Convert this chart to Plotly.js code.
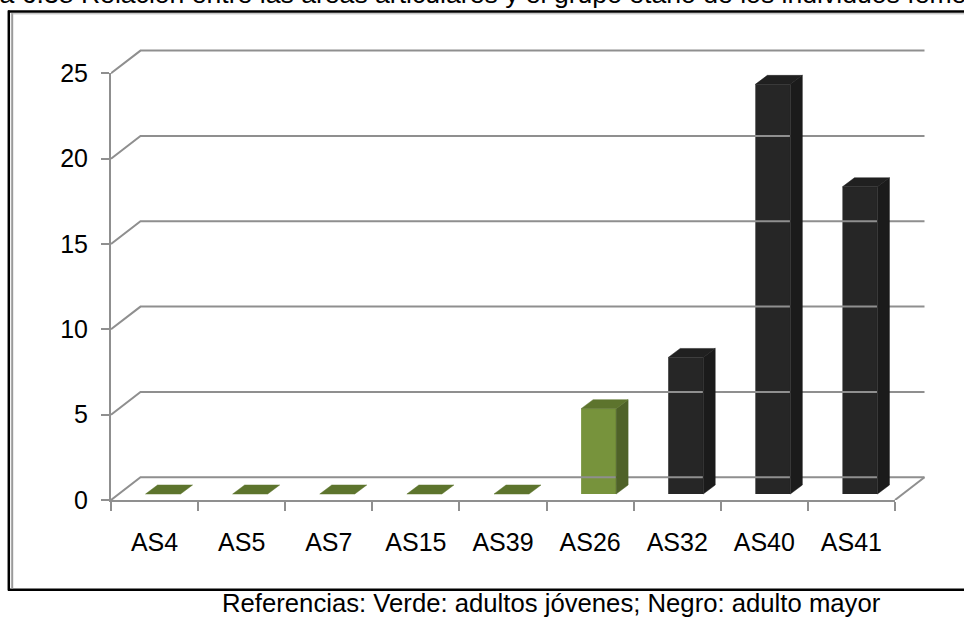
<!DOCTYPE html>
<html><head><meta charset="utf-8">
<script src="https://cdn.plot.ly/plotly-3.0.1.min.js"></script>
<style>html,body{margin:0;padding:0;background:#fff;}#chart{width:964px;height:619px;}</style>
</head><body><div id="chart"></div>
<script>
// ---- data ----
const categories = ['AS4','AS5','AS7','AS15','AS39','AS26','AS32','AS40','AS41'];
const values = [0, 0, 0, 0, 0, 5, 8, 24, 18];
const groups = ['joven','joven','joven','joven','joven','joven','mayor','mayor','mayor'];
const yTicks = [0, 5, 10, 15, 20, 25];
const titleText = 'Figura 6.38 Relación entre las áreas articulares y el grupo etario de los individuos femeninos';
const captionText = 'Referencias: Verde: adultos jóvenes; Negro: adulto mayor';

// ---- layout geometry (pixels) ----
const W = 964, H = 619;
const FONT = 'Liberation Sans, Arial, sans-serif';
const plotL = 111, plotR = 895, y0px = 500, yTopPx = 73.3;
const yMaxVal = 25;
const U = (plotR - plotL) / categories.length;   // px per category
const V = (y0px - yTopPx) / yMaxVal;             // px per unit
const wallDx = 29.5 / U, wallDy = 22.7 / V;       // depth of the 3D box
const barDx = 8.5 / U, barDy = 6 / V;             // bar plane offset
const barW = 35 / U;
const sideDx = 12 / U, sideDy = 9 / V;            // bar depth
const xMin = -0.5, xMax = categories.length - 0.5;
const wxMax = xMax + wallDx + 0.05;
const wyMax = yMaxVal + wallDy + 0.12;
const fx = p => p / W, fy = p => 1 - p / H;

const colors = {
  joven: {front: '#77933C', side: '#4F6228', top: '#5D742D'},
  mayor: {front: '#262626', side: '#1B1B1B', top: '#202020'}
};
const gridColor = '#8F8F8F';

// back wall grid lines + floor
const gx = [], gy = [];
yTicks.forEach(t => {
  gx.push(xMin, xMin + wallDx, xMax + wallDx, null);
  gy.push(t, t + wallDy, t + wallDy, null);
});
gx.push(xMax, xMax + wallDx); gy.push(0, wallDy);

const traces = [];
traces.push({type: 'scatter', mode: 'lines', x: gx, y: gy, line: {color: gridColor, width: 2},
  xaxis: 'x', yaxis: 'y', hoverinfo: 'skip', showlegend: false});

// front faces
traces.push({type: 'bar', x: categories.map((c, i) => i + barDx), y: values, base: barDy, width: barW,
  marker: {color: groups.map(g => colors[g].front), line: {width: 0}},
  xaxis: 'x', yaxis: 'y', hoverinfo: 'skip', showlegend: false});

// side and top faces
Object.keys(colors).forEach(g => {
  const sx = [], sy = [], tx = [], ty = [];
  values.forEach((v, i) => {
    if (groups[i] !== g) return;
    const xl = i + barDx - barW / 2, xr = i + barDx + barW / 2;
    const yb = barDy, yt = barDy + v;
    if (v > 0) {
      sx.push(xr, xr + sideDx, xr + sideDx, xr, xr, null);
      sy.push(yb, yb + sideDy, yt + sideDy, yt, yb, null);
    }
    tx.push(xl, xr, xr + sideDx, xl + sideDx, xl, null);
    ty.push(yt, yt, yt + sideDy, yt + sideDy, yt, null);
  });
  traces.push({type: 'scatter', mode: 'lines', x: sx, y: sy, fill: 'toself', fillcolor: colors[g].side,
    line: {color: colors[g].side, width: 0.5}, xaxis: 'x', yaxis: 'y', hoverinfo: 'skip', showlegend: false});
  traces.push({type: 'scatter', mode: 'lines', x: tx, y: ty, fill: 'toself', fillcolor: colors[g].top,
    line: {color: colors[g].top, width: 0.5}, xaxis: 'x', yaxis: 'y', hoverinfo: 'skip', showlegend: false});
});

// front axes carrier
traces.push({type: 'scatter', mode: 'none', x: categories, y: values, xaxis: 'x2', yaxis: 'y2',
  hoverinfo: 'skip', showlegend: false});

const H_ = (x0, y0, x1, y1, color, w) => ({type: 'line', xref: 'paper', yref: 'paper',
  x0: fx(x0), y0: fy(y0), x1: fx(x1), y1: fy(y1), line: {color: color, width: w}});

const layout = {
  width: W, height: H, autosize: false,
  margin: {l: 0, r: 0, t: 0, b: 0, pad: 0},
  paper_bgcolor: '#ffffff', plot_bgcolor: 'rgba(0,0,0,0)',
  showlegend: false,
  font: {family: FONT, size: 25, color: '#000'},
  xaxis: {visible: false, range: [xMin, wxMax], domain: [fx(plotL), fx(plotL + (wxMax - xMin) * U)],
    anchor: 'y', fixedrange: true},
  yaxis: {visible: false, range: [0, wyMax], domain: [fy(y0px), fy(y0px - wyMax * V)],
    anchor: 'x', fixedrange: true},
  xaxis2: {type: 'category', categoryorder: 'array', categoryarray: categories,
    range: [xMin, xMax], domain: [fx(plotL), fx(plotR)], anchor: 'y2',
    tickson: 'boundaries', ticks: 'outside', ticklen: 9, tickwidth: 2, tickcolor: gridColor,
    showline: true, linecolor: gridColor, linewidth: 2, showgrid: false, zeroline: false,
    tickfont: {family: FONT, size: 25, color: '#000'}, ticklabelstandoff: 19, fixedrange: true},
  yaxis2: {range: [0, yMaxVal], domain: [fy(y0px), fy(yTopPx)], anchor: 'x2',
    tickmode: 'array', tickvals: yTicks, ticktext: yTicks.map(String),
    ticks: 'outside', ticklen: 8, tickwidth: 2, tickcolor: gridColor,
    showline: true, linecolor: gridColor, linewidth: 2, showgrid: false, zeroline: false,
    tickfont: {family: FONT, size: 25, color: '#000'}, ticklabelstandoff: 8, fixedrange: true},
  annotations: [
    {text: titleText, xref: 'paper', yref: 'paper', x: fx(-63), y: fy(11), xanchor: 'left', yanchor: 'bottom',
      showarrow: false, font: {family: FONT, size: 26.6, color: '#000'}},
    {text: captionText, xref: 'paper', yref: 'paper', x: fx(220), y: fy(619), xanchor: 'left', yanchor: 'bottom',
      showarrow: false, font: {family: FONT, size: 25.7, color: '#000'}}
  ],
  shapes: [
    H_(8, 11.5, 964, 11.5, '#000', 2.5),
    H_(8.8, 10.5, 8.8, 590.5, '#000', 2.5),
    H_(8, 589.8, 964, 589.8, '#000', 2.5),
    H_(12.2, 13, 12.2, 588.5, '#9a9a9a', 2),
    H_(11, 13.8, 964, 13.8, '#b0b0b0', 1)
  ]
};

Plotly.newPlot('chart', traces, layout, {staticPlot: true, displayModeBar: false});
</script>
</body></html>
